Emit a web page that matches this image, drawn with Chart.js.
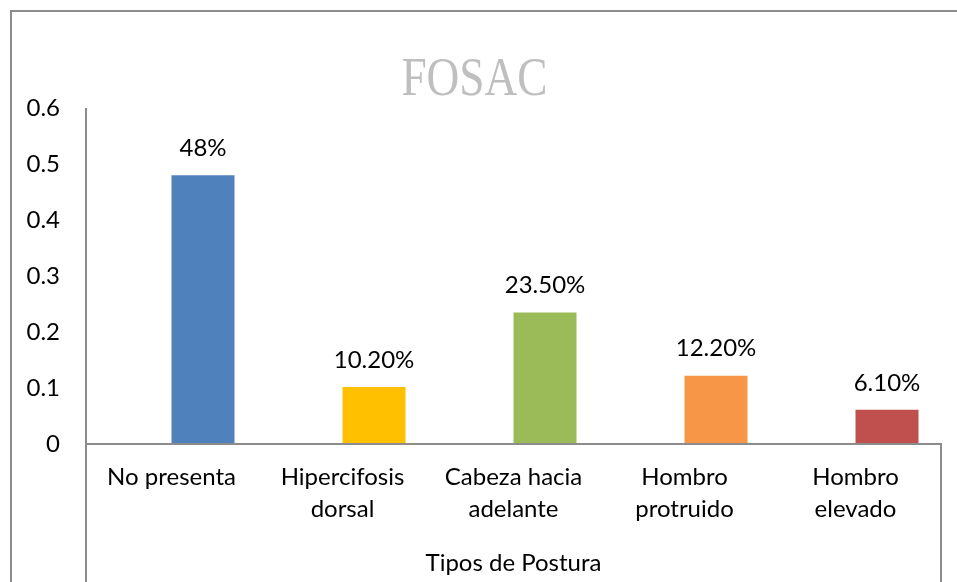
<!DOCTYPE html>
<html>
<head>
<meta charset="utf-8">
<script src="https://cdn.jsdelivr.net/npm/chart.js@4"></script>
<style>
  html, body { margin: 0; padding: 0; background: #fff; overflow: hidden; }
  #wrap { position: relative; width: 957px; height: 582px; }
  #frame { position: absolute; left: 10px; top: 10px; width: 1000px; height: 700px;
           border-left: 2px solid #8c8c8c; border-top: 2px solid #8c8c8c; pointer-events: none; }
  canvas { position: absolute; left: 0; top: 0; }
</style>
</head>
<body>
<div id="wrap">
  <canvas id="posturaChart" width="957" height="582"></canvas>
  <div id="frame"></div>
</div>
<script>
document.addEventListener("DOMContentLoaded", function () {
    const categories = [
        ["No presenta"],
        ["Hipercifosis", "dorsal"],
        ["Cabeza hacia", "adelante"],
        ["Hombro", "protruido"],
        ["Hombro", "elevado"]
    ];
    // the original sheet has an empty first series, so bars sit right of centre
    const emptySeries = [null, null, null, null, null];
    const values = [0.48, 0.102, 0.235, 0.122, 0.061];
    const valueLabels = ["48%", "10.20%", "23.50%", "12.20%", "6.10%"];
    const barColors = ["#4F81BD", "#FFC000", "#9BBB59", "#F79646", "#C0504D"];
    const yTicks = [0, 0.1, 0.2, 0.3, 0.4, 0.5, 0.6];
    const chartTitle = "FOSAC";

    const labelFont = { family: "Lato, 'Noto Sans', sans-serif", size: 24 };

    // title, value labels above bars, axis box lines
    const extras = {
        id: "extras",
        afterDatasetsDraw(chart) {
            const ctx = chart.ctx;
            const meta = chart.getDatasetMeta(1);
            ctx.save();
            ctx.fillStyle = "#000";
            ctx.font = labelFont.size + "px " + labelFont.family;
            ctx.textAlign = "center";
            ctx.textBaseline = "middle";
            meta.data.forEach(function (bar, i) {
                ctx.fillText(valueLabels[i], bar.x, bar.y - 27);
            });

            const area = chart.chartArea;
            const y0 = chart.scales.y.getPixelForValue(0);
            ctx.strokeStyle = "#8c8c8c";
            ctx.lineWidth = 2;
            ctx.beginPath();
            ctx.moveTo(area.left, area.top);
            ctx.lineTo(area.left, chart.height);
            ctx.moveTo(area.left, y0);
            ctx.lineTo(area.right, y0);
            ctx.lineTo(area.right, chart.height);
            ctx.stroke();

            // title: narrow serif, drawn squeezed to match Cambria proportions
            ctx.fillStyle = "#BFBFBF";
            ctx.font = "54px 'Liberation Serif', 'DejaVu Serif', serif";
            ctx.textBaseline = "alphabetic";
            ctx.translate(chart.width / 2 - 4, 95);
            ctx.scale(0.84, 1);
            ctx.fillText(chartTitle, 0, 0);
            ctx.restore();
        }
    };

    new Chart(document.getElementById("posturaChart").getContext("2d"), {
        type: "bar",
        data: {
            labels: categories,
            datasets: [{
                data: emptySeries,
                backgroundColor: "#ffffff",
                borderWidth: 0,
                categoryPercentage: 0.737,
                barPercentage: 1
            }, {
                data: values,
                backgroundColor: barColors,
                borderWidth: 0,
                categoryPercentage: 0.737,
                barPercentage: 1
            }]
        },
        options: {
            responsive: false,
            animation: false,
            layout: { padding: { left: 0, right: 16, top: 108, bottom: 0 } },
            plugins: {
                legend: { display: false },
                tooltip: { enabled: false },
                title: { display: false }
            },
            scales: {
                x: {
                    grid: { display: false, drawTicks: false },
                    border: { display: false },
                    ticks: {
                        color: "#000",
                        font: Object.assign({ lineHeight: 1.35 }, labelFont),
                        padding: 17,
                        maxRotation: 0
                    },
                    title: {
                        display: true,
                        text: "Tipos de Postura",
                        color: "#000",
                        font: labelFont,
                        padding: { top: 0, bottom: 4 }
                    },
                    afterFit(scale) { scale.height = 138; }
                },
                y: {
                    min: 0,
                    max: 0.6,
                    grid: { display: false, drawTicks: false },
                    border: { display: false },
                    afterBuildTicks(scale) {
                        scale.ticks = yTicks.map(function (v) { return { value: v }; });
                    },
                    ticks: {
                        color: "#000",
                        font: labelFont,
                        padding: 26,
                        callback: function (v) { return String(Math.round(v * 10) / 10); }
                    },
                    afterFit(scale) { scale.width = 86; }
                }
            }
        },
        plugins: [extras]
    });
});
</script>
</body>
</html>
